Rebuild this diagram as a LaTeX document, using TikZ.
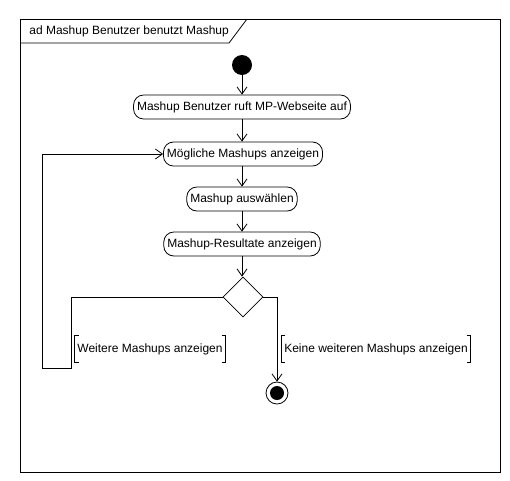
\documentclass[tikz,border=0pt]{standalone}
\usepackage{fontspec}
\setmainfont{Liberation Sans}
\usetikzlibrary{arrows.meta,shapes.geometric}
\begin{document}
\begin{tikzpicture}[x=1pt,y=-1pt,line width=0.8pt,
  font=\fontsize{12}{14}\selectfont,
  act/.style={draw,rounded corners=10pt,minimum height=24pt,inner xsep=3.5pt},
  flow/.style={-{Straight Barb[length=7pt,width=10pt]}},
  guard/.style={minimum height=26pt,inner xsep=2.5pt}]
\useasboundingbox (0,0) rectangle (510,480);
\draw (20,19) rectangle (500,472);
\node[anchor=west,inner xsep=0pt] (title) at (29,31) {ad Mashup Benutzer benutzt Mashup};
\draw (20,43) -- (229,43) -- (247,19);

\node[circle,fill,minimum size=20pt,inner sep=0pt] (start) at (242,65) {};
\node[act] (visit) at (242,107) {Mashup Benutzer ruft MP-Webseite auf};
\node[act] (show) at (243,154) {Mögliche Mashups anzeigen};
\node[act] (choose) at (242,199) {Mashup auswählen};
\node[act] (result) at (242,244) {Mashup-Resultate anzeigen};
\node[diamond,draw,aspect=1,minimum size=40pt,inner sep=0pt] (more) at (243,297) {};
\node[circle,draw,minimum size=22pt,inner sep=0pt] (end) at (277,393) {};
\node[circle,fill,minimum size=14pt,inner sep=0pt] at (end) {};

\node[guard] (yes) at (150,349) {Weitere Mashups anzeigen};
\node[guard] (no) at (376,349) {Keine weiteren Mashups anzeigen};
\draw (yes.north west) ++(4,0) -| (yes.south west) -- ++(4,0);
\draw (yes.north east) ++(-4,0) -| (yes.south east) -- ++(-4,0);
\draw (no.north west) ++(4,0) -| (no.south west) -- ++(4,0);
\draw (no.north east) ++(-4,0) -| (no.south east) -- ++(-4,0);

\coordinate (back1) at (71,368);
\coordinate (back2) at (42,368);

\draw[flow] (start) -- (visit);
\draw[flow] (visit.south -| start) -- (show.north -| start);
\draw[flow] (show.south -| start) -- (choose.north -| start);
\draw[flow] (choose.south -| start) -- (result.north -| start);
\draw[flow] (result.south -| start) -- (more.north -| start);
\draw[flow] (more.west) -| (back1) -- (back2) |- (show.west);
\draw[flow] (more.east) -| (end.north);

\end{tikzpicture}
\end{document}
